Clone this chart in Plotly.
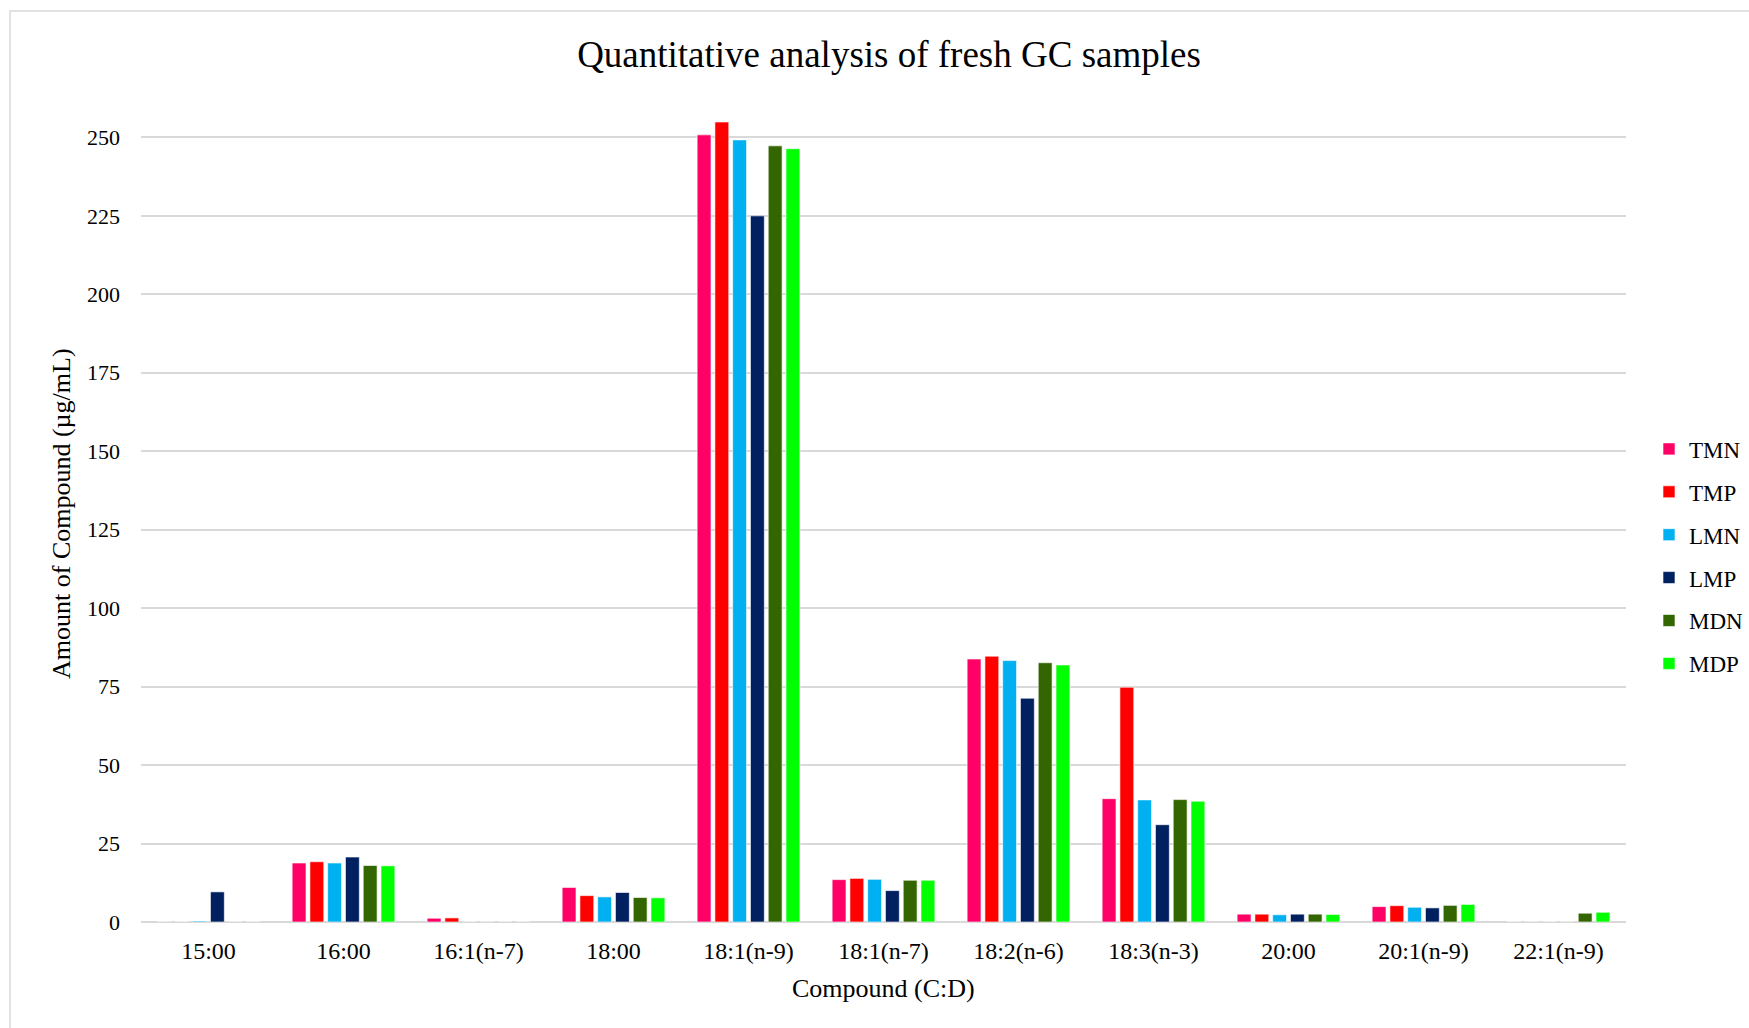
import plotly.graph_objects as go

categories = ["15:00", "16:00", "16:1(n-7)", "18:00", "18:1(n-9)", "18:1(n-7)",
              "18:2(n-6)", "18:3(n-3)", "20:00", "20:1(n-9)", "22:1(n-9)"]

TMN = [0.0, 18.8, 1.2, 11.0, 250.8, 13.5, 83.8, 39.3, 2.5, 4.9, 0.0]
TMP = [0.0, 19.2, 1.3, 8.4, 254.9, 13.9, 84.7, 74.8, 2.5, 5.2, 0.0]
LMN = [0.3, 18.8, 0.0, 8.0, 249.2, 13.6, 83.3, 38.9, 2.3, 4.7, 0.0]
LMP = [9.6, 20.7, 0.0, 9.4, 225.0, 10.0, 71.3, 31.0, 2.5, 4.5, 0.0]
MDN = [0.0, 18.0, 0.0, 7.8, 247.3, 13.3, 82.6, 39.0, 2.5, 5.3, 2.8]
MDP = [0.0, 17.9, 0.0, 7.7, 246.4, 13.3, 81.9, 38.5, 2.4, 5.6, 3.1]

series = [("TMN", TMN, "#FF0066"), ("TMP", TMP, "#FF0000"), ("LMN", LMN, "#00B0F0"),
          ("LMP", LMP, "#002060"), ("MDN", MDN, "#336600"), ("MDP", MDP, "#00FF00")]

y_ticks = [0, 25, 50, 75, 100, 125, 150, 175, 200, 225, 250]

font_family = "Liberation Serif, Times New Roman, serif"

fig = go.Figure()
for name, vals, color in series:
    fig.add_trace(go.Bar(
        x=categories, y=vals, name=name, legendgroup=name,
        marker=dict(color=color, line=dict(color="rgba(255,255,255,0.6)", width=1)),
    ))

W, H = 1749, 1028
L, R, T, B = 141, 123, 106, 106
PW, PH = W - L - R, H - T - B

fig.update_layout(
    width=W, height=H,
    margin=dict(l=L, r=R, t=T, b=B, autoexpand=False),
    paper_bgcolor="white", plot_bgcolor="white",
    font=dict(family=font_family, color="black", size=23),
    barmode="group", bargap=0.21, bargroupgap=0.22,
    title=dict(text="Quantitative analysis of fresh GC samples",
               x=(889 - L) / PW, xref="paper", xanchor="center",
               y=1 - 54 / H, yref="container", yanchor="middle",
               font=dict(size=37, family=font_family, color="black")),
    xaxis=dict(
        tickfont=dict(size=24), showgrid=False, showline=False,
        ticks="", ticklabelstandoff=12,
    ),
    yaxis=dict(
        range=[0, 260], tickvals=y_ticks, tickfont=dict(size=22),
        showgrid=True, gridcolor="#D9D9D9", gridwidth=1.5,
        zeroline=True, zerolinecolor="#D9D9D9", zerolinewidth=1.5,
        showline=False, ticks="", ticklabelstandoff=20,
    ),
    legend=dict(x=(1664 - L - 15) / PW, xanchor="left", y=0.448, yanchor="middle",
                font=dict(size=23), tracegroupgap=10, bgcolor="rgba(0,0,0,0)",
                itemwidth=30),
    annotations=[
        dict(text="Amount of Compound (µg/mL)", textangle=-90,
             xref="paper", yref="paper", x=(61 - L) / PW, y=0.5,
             xanchor="center", yanchor="middle", showarrow=False,
             font=dict(size=26, family=font_family, color="black")),
        dict(text="Compound (C:D)",
             xref="paper", yref="paper", x=(883 - L) / PW, y=(H - B - 988) / PH,
             xanchor="center", yanchor="middle", showarrow=False,
             font=dict(size=26, family=font_family, color="black")),
    ],
    shapes=[dict(type="rect", xref="paper", yref="paper",
                 x0=(10 - L) / PW, x1=(W + 20 - L) / PW,
                 y0=-(B + 20) / PH, y1=1 + (T - 11) / PH,
                 line=dict(color="#D9D9D9", width=1.5), fillcolor="rgba(0,0,0,0)",
                 layer="below")],
)

fig.write_html("out.html")
